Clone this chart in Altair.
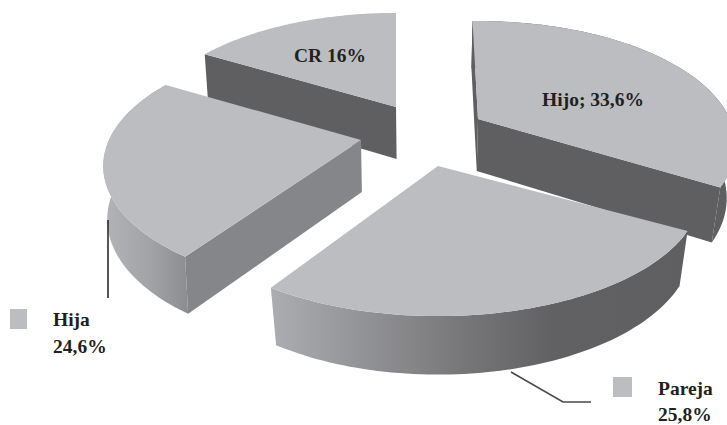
import math
import altair as alt

# Shares of each person, in drawing order around the pie (clockwise from the top)
names = ["Hijo", "Pareja", "Hija", "CR"]
shares = [33.6, 25.8, 24.6, 16.0]

# Where each exploded wedge has its tip on the page
tips = {"Hijo": (478, 119), "Pareja": (438, 166), "Hija": (361, 140), "CR": (396, 107)}

# Perspective distortion per wedge: size (x, y), how far walls lean, and edge shifts in degrees
stretch = {"Hijo": (1, 1), "Pareja": (1.02, 1), "Hija": (1, 1), "CR": (0.98, 0.96)}
lean = {"Hijo": 0.97, "Pareja": 0.968, "Hija": 0.988, "CR": 0.985}
edge_shift = {"Hijo": (0, 1.5), "Pareja": (0, 0), "Hija": (3, 0), "CR": (0, 1.5)}

TOP = "#bcbdc1"
DARK = "#5f5f62"
MID = "#85868a"
INK = "#231f20"

RX, RY = 252, 118.6   # disc radii at the depth of the centre
TILT = 0.21           # perspective strength
DEPTH = 52            # wall height
START = -1.5          # angle of the first wedge, degrees
VANISH_X = 436        # walls lean towards this column


def rim_point(name, deg):
    tip = tips[name]
    sx, sy = stretch[name]
    t = math.radians(deg)
    u, v = math.sin(t), math.cos(t)
    s = 1 / (1 + TILT * v)
    return (tip[0] + RX * sx * u * s, tip[1] - RY * sy * v * s, s)


def drop(name, p):
    """Foot of the wall below a point on the top face."""
    x, y, s = p
    return (VANISH_X + (x - VANISH_X) * lean[name], y + DEPTH * math.sqrt(s))


def arc(name, a, b, n=70):
    return [rim_point(name, a + (b - a) * i / n) for i in range(n + 1)]


def polygon(pts):
    ring = [[round(p[0], 2), round(p[1], 2)] for p in pts]
    ring.append(ring[0])
    return {"type": "Feature", "properties": {}, "geometry": {"type": "Polygon", "coordinates": [ring]}}


def polyline(pts):
    return {"type": "Feature", "properties": {},
            "geometry": {"type": "LineString", "coordinates": [list(p) for p in pts]}}


def shape(feature, **mark):
    return alt.Chart(alt.Data(values=[feature])).mark_geoshape(strokeWidth=0, **mark)


def fade(*stops):
    return alt.Gradient(gradient="linear", x1=0, x2=1, y1=0, y2=0,
                        stops=[alt.GradientStop(offset=o, color=c) for o, c in stops])


# Angular span of every wedge
spans = {}
angle = START
for name, share in zip(names, shares):
    lo, hi = edge_shift[name]
    spans[name] = (angle + lo, angle + share * 3.6 + hi)
    angle += share * 3.6


def top_face(name):
    a, b = spans[name]
    return polygon([tips[name]] + arc(name, a, b))


def rim_wall(name):
    a, b = spans[name]
    pts = arc(name, a, b)
    return polygon(pts + [drop(name, p) for p in reversed(pts)])


def cut_wall(name, deg):
    tip = tips[name]
    r = rim_point(name, deg)
    centre = (tip[0], tip[1], 1.0)
    return polygon([tip, r, drop(name, r), drop(name, centre)])


layers = [
    # Back wedge
    shape(cut_wall("CR", spans["CR"][0]), fill=DARK),
    shape(top_face("CR"), fill=TOP),
    # Left wedge
    shape(rim_wall("Hija"), fill=fade((0, "#b3b4b7"), (0.55, "#a2a3a6"), (1, "#8c8d90"))),
    shape(cut_wall("Hija", spans["Hija"][0]), fill=MID),
    shape(top_face("Hija"), fill=TOP),
    # Right wedge
    shape(cut_wall("Hijo", spans["Hijo"][0]), fill=DARK),
    shape(cut_wall("Hijo", spans["Hijo"][1]), fill=DARK),
    shape(rim_wall("Hijo"), fill=DARK),
    shape(top_face("Hijo"), fill=TOP),
    # Front wedge
    shape(rim_wall("Pareja"), fill=fade((0, "#acadb0"), (0.45, "#78787b"), (0.68, "#616164"), (1, DARK))),
    shape(top_face("Pareja"), fill=TOP),
]

# Leader lines from the wedges to their labels
hija_leader = [(108, 220), (108, 298)]
pareja_leader = [(511, 372), (563, 402), (591, 402)]
layers.append(alt.Chart(alt.Data(values=[polyline(hija_leader)])).mark_geoshape(
    filled=False, stroke="#2b2b2d", strokeWidth=1.6))
layers.append(alt.Chart(alt.Data(values=[polyline(pareja_leader)])).mark_geoshape(
    filled=False, stroke="#4a4a4c", strokeWidth=1.6))

# Legend swatches beside the outside labels
hija_swatch = [(10, 309), (27, 309), (27, 329), (10, 329)]
pareja_swatch = [(613, 377), (632, 377), (632, 397), (613, 397)]
layers.append(shape(polygon(hija_swatch), fill=TOP))
layers.append(shape(polygon(pareja_swatch), fill=TOP))


def pct(value):
    text = f"{value:.1f}".replace(".", ",")
    return text.removesuffix(",0") + "%"


def label(text, x, y, align="left"):
    return alt.Chart(alt.Data(values=[{"t": text}])).mark_text(
        font="Liberation Serif", fontWeight="bold", fontSize=19.5, color=INK,
        align=align, baseline="alphabetic",
    ).encode(text="t:N", x=alt.value(x), y=alt.value(y))


share_of = dict(zip(names, shares))
layers += [
    label(f"CR {pct(share_of['CR'])}", 330, 62, "center"),
    label(f"Hijo; {pct(share_of['Hijo'])}", 593, 106, "center"),
    label("Hija", 53, 326),
    label(pct(share_of["Hija"]), 53, 353),
    label("Pareja", 658, 395),
    label(pct(share_of["Pareja"]), 658, 421),
]

chart = alt.layer(*layers).project(type="identity", scale=1, translate=[0, 0]).properties(
    width=727, height=425, padding=0,
    autosize=alt.AutoSizeParams(type="none"),
    background="white",
).configure_view(strokeWidth=0)

chart.save("out.html", embed_options={"renderer": "svg", "actions": False})
